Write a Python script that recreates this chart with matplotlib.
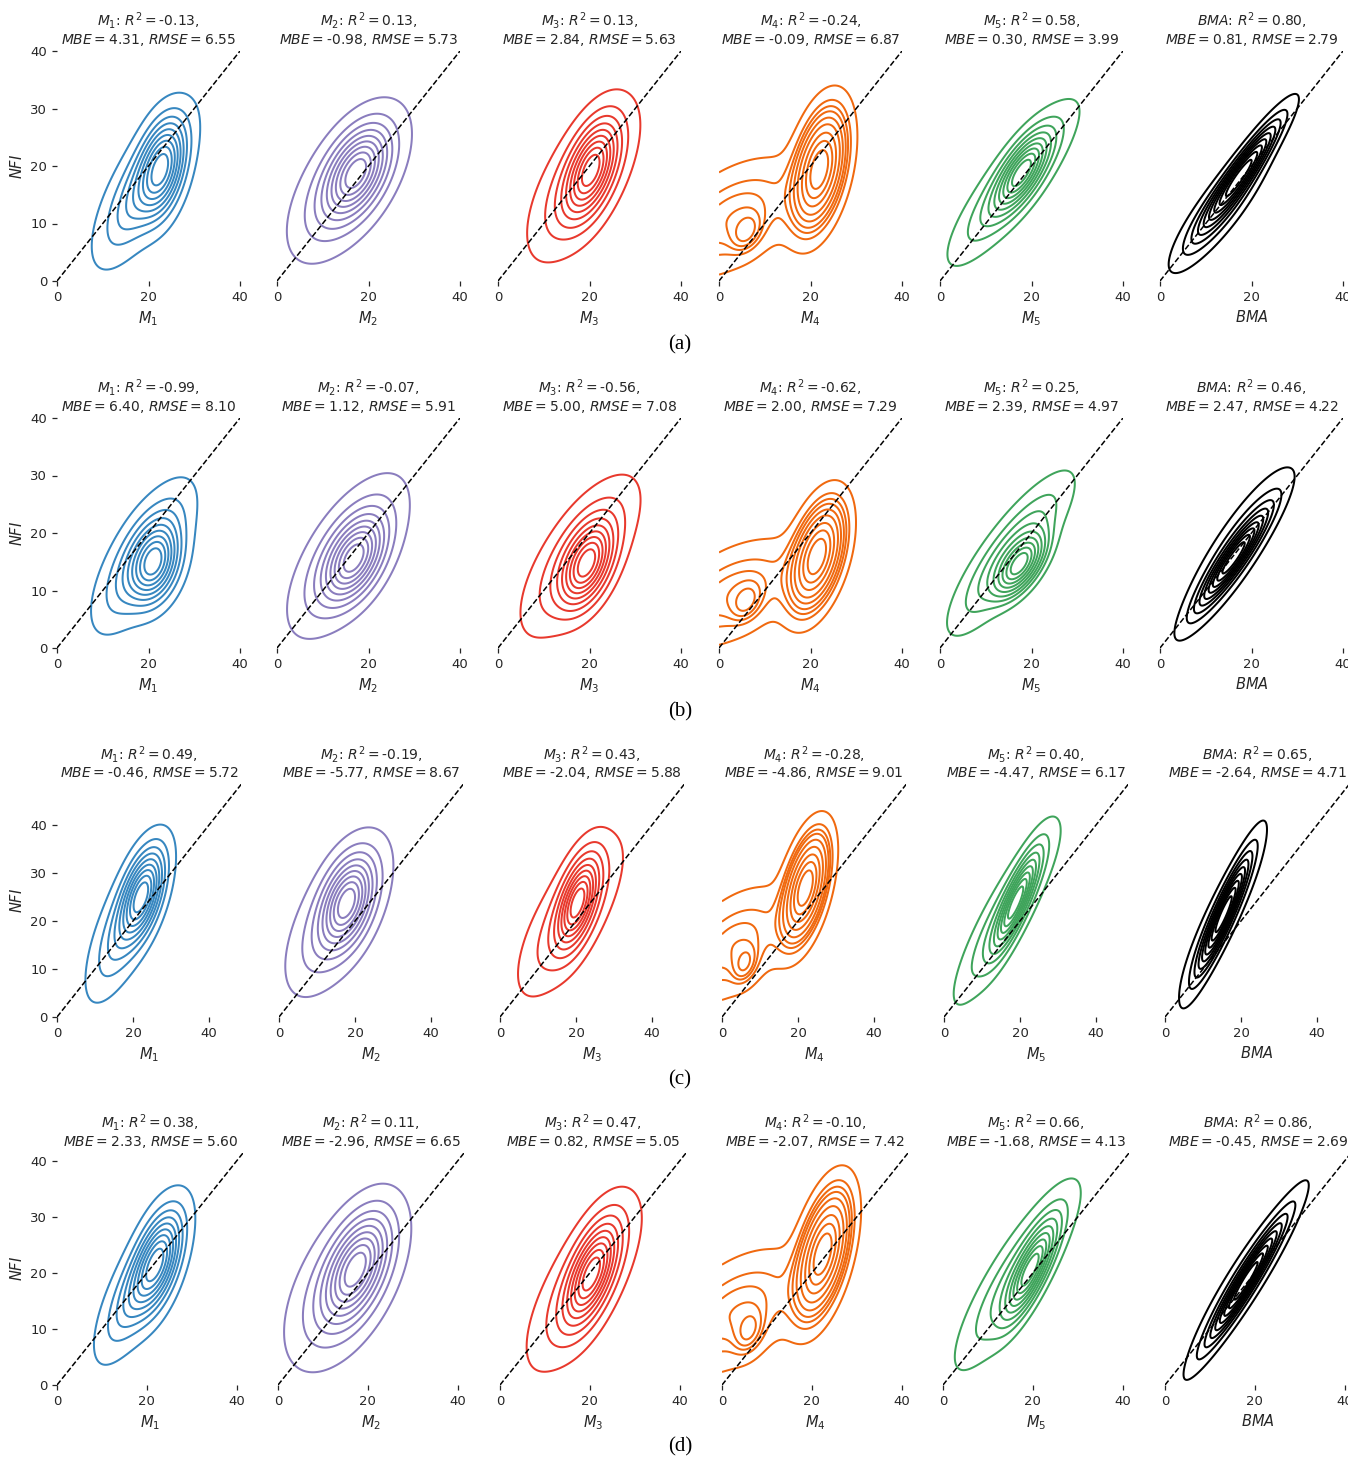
import numpy as np
import matplotlib
matplotlib.use("Agg")
import matplotlib.pyplot as plt

# ---------------- data ----------------
MODELS = ["M_1", "M_2", "M_3", "M_4", "M_5", "BMA"]
COLORS = ["#3787c0", "#8a7dbe", "#e8392d", "#f0690f", "#3fa45b", "#000000"]
ROW_CAPTIONS = ["(a)", "(b)", "(c)", "(d)"]
ROW_LIMITS = [40, 40, 48.5, 41.5]
X_TICKS = [0, 20, 40]
Y_TICKS = [0, 10, 20, 30, 40]

R2_A = [-0.13, 0.13, 0.13, -0.24, 0.58, 0.80]
MBE_A = [4.31, -0.98, 2.84, -0.09, 0.30, 0.81]
RMSE_A = [6.55, 5.73, 5.63, 6.87, 3.99, 2.79]
R2_B = [-0.99, -0.07, -0.56, -0.62, 0.25, 0.46]
MBE_B = [6.40, 1.12, 5.00, 2.00, 2.39, 2.47]
RMSE_B = [8.10, 5.91, 7.08, 7.29, 4.97, 4.22]
R2_C = [0.49, -0.19, 0.43, -0.28, 0.40, 0.65]
MBE_C = [-0.46, -5.77, -2.04, -4.86, -4.47, -2.64]
RMSE_C = [5.72, 8.67, 5.88, 9.01, 6.17, 4.71]
R2_D = [0.38, 0.11, 0.47, -0.10, 0.66, 0.86]
MBE_D = [2.33, -2.96, 0.82, -2.07, -1.68, -0.45]
RMSE_D = [5.60, 6.65, 5.05, 7.42, 4.13, 2.69]

# density components: (weight, mean_x, mean_y, sd_x, sd_y, corr)
KDE_A = [
    [(0.5, 23, 19.5, 3.0, 5.0, 0.35), (0.5, 19, 16.5, 5.5, 7.0, 0.72)],
    [(0.5, 17.5, 19, 4.0, 4.5, 0.45), (0.5, 15.5, 17, 6.5, 6.8, 0.6)],
    [(0.55, 20.5, 19.5, 3.4, 5.0, 0.5), (0.45, 18.5, 17.5, 6.0, 7.0, 0.65)],
    [(0.6, 22, 19.5, 3.4, 6.0, 0.4), (0.03, 6, 8.5, 2.0, 2.0, 0.3), (0.37, 3, 11, 9.0, 6.0, 0.5)],
    [(0.5, 18, 19, 3.5, 4.0, 0.7), (0.5, 16, 17, 7.0, 7.0, 0.86)],
    [(0.6, 18.5, 19.5, 5.0, 5.5, 0.93), (0.4, 13, 12.5, 5.5, 5.5, 0.86)],
]
KDE_B = [
    [(0.5, 21.5, 14.5, 3.2, 4.0, 0.3), (0.5, 19, 16, 5.5, 6.5, 0.7)],
    [(0.5, 17, 15.5, 3.8, 4.2, 0.45), (0.5, 15.5, 16, 6.5, 7.0, 0.65)],
    [(0.55, 19.5, 14.5, 3.3, 4.2, 0.45), (0.45, 18, 16, 6.5, 7.0, 0.7)],
    [(0.6, 21.5, 16, 3.5, 5.5, 0.45), (0.03, 6, 8, 2.0, 2.0, 0.3), (0.37, 3, 9.5, 9.0, 5.5, 0.5)],
    [(0.5, 17.5, 14.5, 3.0, 3.0, 0.6), (0.5, 15.5, 16.5, 6.8, 7.0, 0.84)],
    [(0.55, 16, 15.5, 4.5, 5.0, 0.93), (0.45, 16.5, 17, 6.0, 7.0, 0.88)],
]
KDE_C = [
    [(0.55, 22.5, 25.5, 3.3, 5.5, 0.5), (0.45, 18.5, 20, 5.5, 8.5, 0.72)],
    [(0.55, 18, 24, 4.0, 5.5, 0.4), (0.45, 15.5, 21, 7.0, 8.5, 0.62)],
    [(0.6, 20.5, 24, 3.2, 5.5, 0.55), (0.4, 18.5, 21, 7.0, 8.5, 0.72)],
    [(0.6, 22, 27, 3.5, 6.5, 0.5), (0.03, 6, 11, 2.0, 2.4, 0.3), (0.37, 3, 15, 9.0, 7.0, 0.5)],
    [(0.55, 19, 24, 3.5, 6.0, 0.85), (0.45, 16.5, 21.5, 7.0, 9.5, 0.88)],
    [(0.6, 15.5, 21.5, 4.2, 7.5, 0.93), (0.4, 15, 21, 5.5, 8.5, 0.9)],
]
KDE_D = [
    [(0.55, 22.5, 22, 3.3, 5.5, 0.5), (0.45, 18.5, 18, 5.0, 7.0, 0.75)],
    [(0.55, 17.5, 21, 4.2, 5.5, 0.5), (0.45, 15, 18, 7.0, 8.0, 0.55)],
    [(0.6, 20.5, 20, 3.5, 5.5, 0.6), (0.4, 18.5, 18, 6.5, 8.0, 0.72)],
    [(0.6, 22.5, 23.5, 3.5, 6.5, 0.5), (0.03, 6, 9.5, 2.0, 2.4, 0.3), (0.37, 3, 13, 9.0, 6.5, 0.5)],
    [(0.55, 19.5, 20.5, 3.3, 5.0, 0.8), (0.45, 16.5, 19.5, 7.0, 8.5, 0.86)],
    [(0.6, 18, 18.5, 5.0, 6.5, 0.96), (0.4, 18, 19, 6.5, 8.0, 0.93)],
]

ROWS = [
    (R2_A, MBE_A, RMSE_A, KDE_A),
    (R2_B, MBE_B, RMSE_B, KDE_B),
    (R2_C, MBE_C, RMSE_C, KDE_C),
    (R2_D, MBE_D, RMSE_D, KDE_D),
]

# ---------------- layout ----------------
W, H = 1348, 1458
ROW_BOTTOM_PX = [281, 648, 1017, 1385]
ROW_LEFT_PX = [
    [57, 277, 498, 719, 940, 1160],
    [57, 277, 498, 719, 940, 1160],
    [57, 279, 500, 722, 944, 1165],
    [57, 278, 500, 722, 943, 1165],
]
PPU_X = [4.575, 4.575, 3.8, 4.49]
PPU_Y = [5.75, 5.75, 4.8, 5.6]
CAPTION_Y_PX = [345, 712, 1080, 1447]
ISO_PROPS = np.linspace(0.05, 1, 10)
TXT = "#262626"


def mixture_density(X, Y, comps):
    Z = np.zeros_like(X)
    for w, mx, my, sx, sy, rho in comps:
        dx = (X - mx) / sx
        dy = (Y - my) / sy
        q = (dx ** 2 - 2 * rho * dx * dy + dy ** 2) / (1 - rho ** 2)
        Z += w * np.exp(-q / 2) / (2 * np.pi * sx * sy * np.sqrt(1 - rho ** 2))
    return Z


def iso_levels(Z, props):
    vals = np.sort(Z.ravel())[::-1]
    cum = np.cumsum(vals) / vals.sum()
    idx = np.searchsorted(cum, 1 - np.asarray(props))
    lv = np.take(vals, idx, mode="clip")
    return np.unique(lv)


fig = plt.figure(figsize=(W / 100, H / 100), dpi=100)

for r, (r2s, mbes, rmses, kdes) in enumerate(ROWS):
    lim = ROW_LIMITS[r]
    wpx = lim * PPU_X[r]
    hpx = lim * PPU_Y[r]
    xs = np.linspace(0, lim, 300)
    ys = np.linspace(0, lim, 300)
    X, Y = np.meshgrid(xs, ys)
    for c in range(6):
        left = ROW_LEFT_PX[r][c] / W
        bottom = 1 - ROW_BOTTOM_PX[r] / H
        ax = fig.add_axes([left, bottom, wpx / W, hpx / H])
        Z = mixture_density(X, Y, kdes[c])
        lv = iso_levels(Z, ISO_PROPS)
        ax.contour(X, Y, Z, levels=lv, colors=COLORS[c], linewidths=1.45)
        ax.plot([0, lim], [0, lim], color="black", ls="--", lw=1.1)
        ax.set_xlim(0, lim)
        ax.set_ylim(0, lim)
        for s in ax.spines.values():
            s.set_visible(False)
        ax.set_xticks(X_TICKS)
        ax.tick_params(axis="both", colors=TXT, labelsize=9.5, length=3.5, width=0.9)
        if c == 0:
            ax.set_yticks(Y_TICKS)
            ax.set_ylabel("$NFI$", fontsize=10.5, color=TXT)
        else:
            ax.set_yticks([])
        ax.set_xlabel(f"${MODELS[c]}$", fontsize=10.5, color=TXT)
        title = (f"${MODELS[c]}$: $R^2=${r2s[c]:.2f},\n"
                 f"$MBE=${mbes[c]:.2f}, $RMSE=${rmses[c]:.2f}")
        ax.set_title(title, fontsize=10, color=TXT, pad=5, linespacing=1.05)
    fig.text(680 / W, 1 - CAPTION_Y_PX[r] / H, ROW_CAPTIONS[r],
             family="Liberation Serif", fontsize=15, ha="center", va="center")

fig.savefig("out.png", dpi=100)
